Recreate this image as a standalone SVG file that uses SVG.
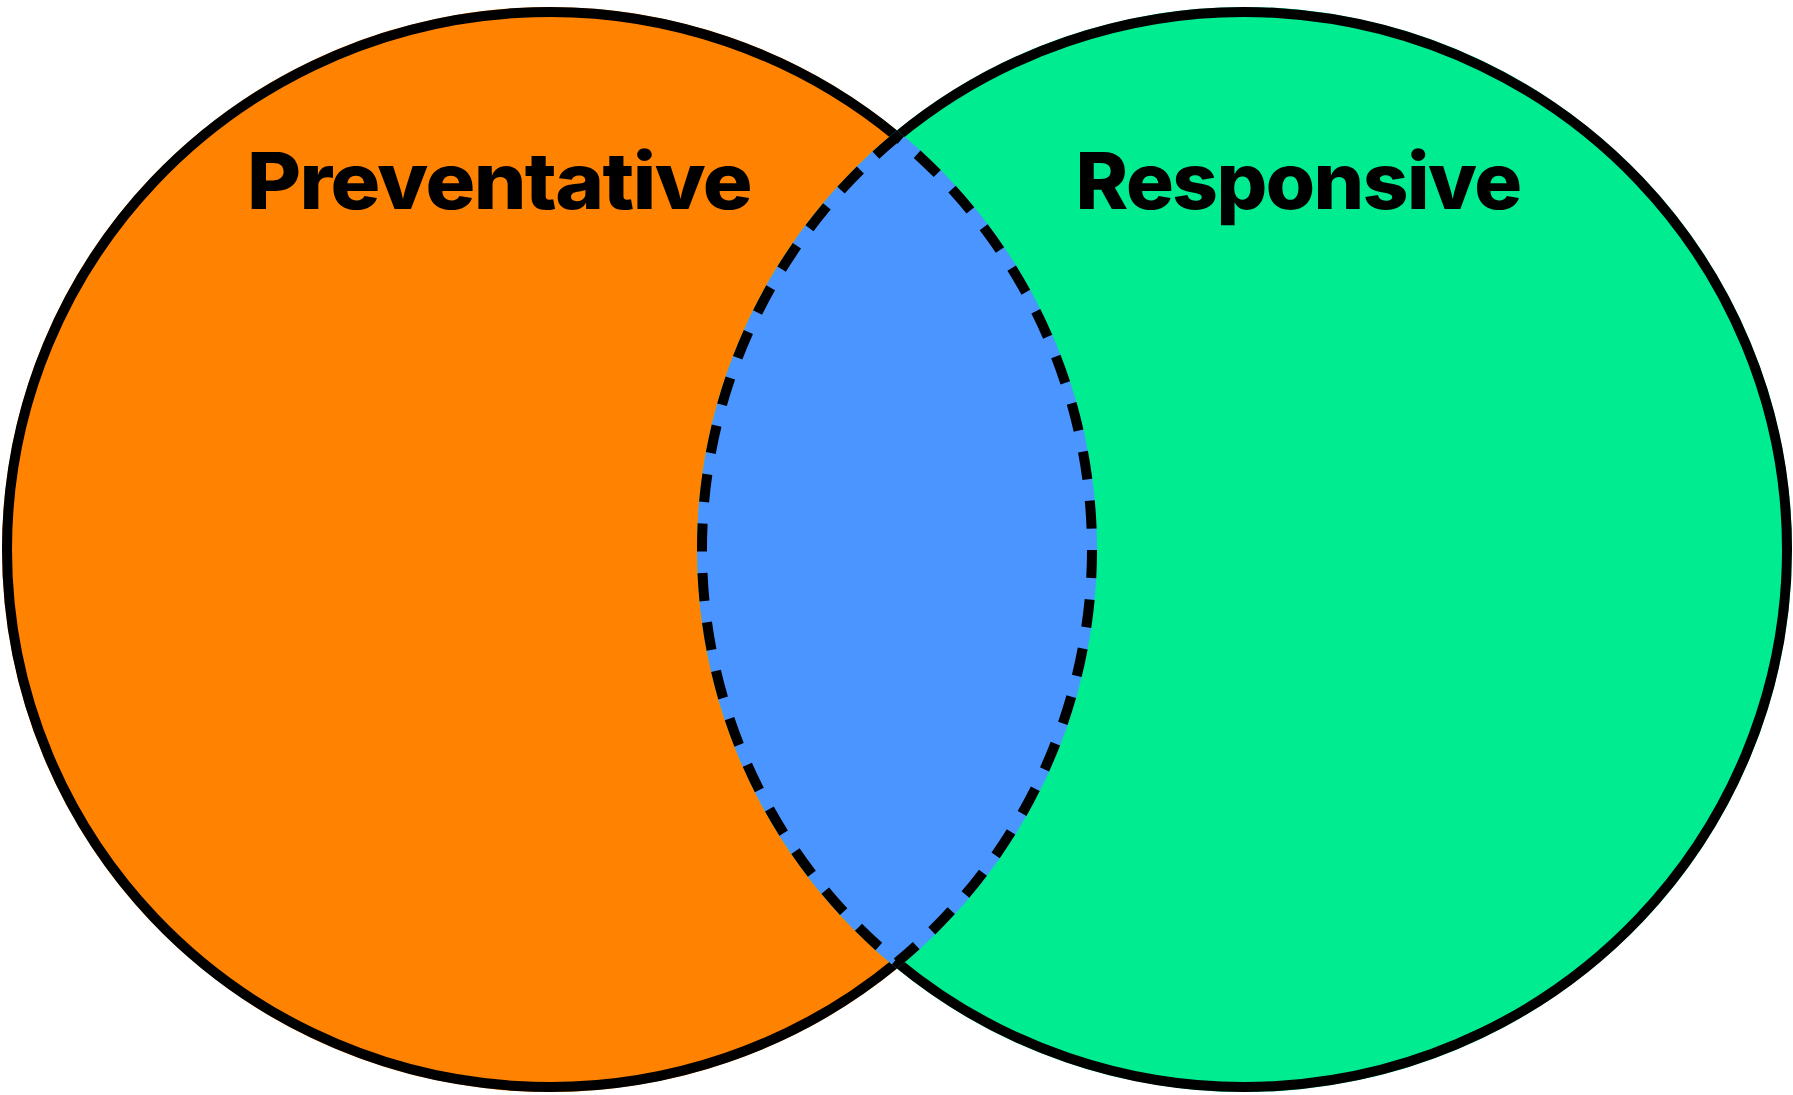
<svg xmlns="http://www.w3.org/2000/svg" width="1793" height="1095" viewBox="0 0 1793 1095">
  <style>
    .outline { fill: none; stroke: #000; stroke-width: 10; }
    .dashed { fill: none; stroke: #000; stroke-width: 10; stroke-dasharray: 28 21.5; }
    .label { font-family: Inter, "Liberation Sans", sans-serif; font-weight: 800; font-size: 78px; letter-spacing: -1.5px; fill: #000; text-anchor: middle; }
  </style>
  <rect width="1793" height="1095" fill="#ffffff"/>
  <g id="preventative">
    <ellipse cx="549.5" cy="549.5" rx="547.5" ry="542.5" fill="#FF8200"/>
    <path class="outline" d="M 897 136.74 A 542.5 537.5 0 1 0 897 962.26"/>
    <text class="label" x="499" y="209" textLength="504" lengthAdjust="spacingAndGlyphs">Preventative</text>
  </g>
  <g id="responsive">
    <ellipse cx="1244.5" cy="549.5" rx="547.5" ry="542.5" fill="#00EC91"/>
    <path class="outline" d="M 897 136.74 A 542.5 537.5 0 1 1 897 962.26"/>
    <text class="label" x="1298" y="209" textLength="445" lengthAdjust="spacingAndGlyphs">Responsive</text>
  </g>
  <g id="overlap">
    <path d="M 897 130.28 A 547.5 542.5 0 0 0 897 968.72 A 547.5 542.5 0 0 0 897 130.28 Z" fill="#4A95FF"/>
    <path class="dashed" d="M 897 136.74 A 542.5 537.5 0 0 0 897 962.26 A 542.5 537.5 0 0 0 897 136.74 Z"/>
  </g>
</svg>
